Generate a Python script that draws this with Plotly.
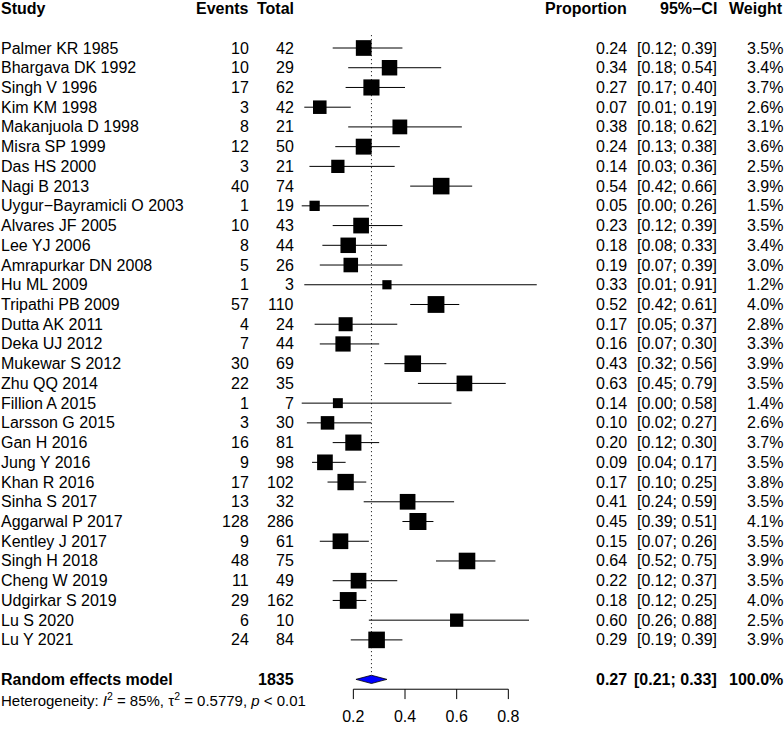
import math
import plotly.graph_objects as go

# ---------------- data ----------------
studies = ["Palmer KR 1985", "Bhargava DK 1992", "Singh V 1996", "Kim KM 1998",
           "Makanjuola D 1998", "Misra SP 1999", "Das HS 2000", "Nagi B 2013",
           "Uygur\u2212Bayramicli O 2003", "Alvares JF 2005", "Lee YJ 2006",
           "Amrapurkar DN 2008", "Hu ML 2009", "Tripathi PB 2009", "Dutta AK 2011",
           "Deka UJ 2012", "Mukewar S 2012", "Zhu QQ 2014", "Fillion A 2015",
           "Larsson G 2015", "Gan H 2016", "Jung Y 2016", "Khan R 2016",
           "Sinha S 2017", "Aggarwal P 2017", "Kentley J 2017", "Singh H 2018",
           "Cheng W 2019", "Udgirkar S 2019", "Lu S 2020", "Lu Y 2021"]
events = [10, 10, 17, 3, 8, 12, 3, 40, 1, 10, 8, 5, 1, 57, 4, 7, 30, 22, 1, 3,
          16, 9, 17, 13, 128, 9, 48, 11, 29, 6, 24]
totals = [42, 29, 62, 42, 21, 50, 21, 74, 19, 43, 44, 26, 3, 110, 24, 44, 69, 35,
          7, 30, 81, 98, 102, 32, 286, 61, 75, 49, 162, 10, 84]
proportion = [0.24, 0.34, 0.27, 0.07, 0.38, 0.24, 0.14, 0.54, 0.05, 0.23, 0.18,
              0.19, 0.33, 0.52, 0.17, 0.16, 0.43, 0.63, 0.14, 0.10, 0.20, 0.09,
              0.17, 0.41, 0.45, 0.15, 0.64, 0.22, 0.18, 0.60, 0.29]
ci_lower = [0.12, 0.18, 0.17, 0.01, 0.18, 0.13, 0.03, 0.42, 0.00, 0.12, 0.08,
            0.07, 0.01, 0.42, 0.05, 0.07, 0.32, 0.45, 0.00, 0.02, 0.12, 0.04,
            0.10, 0.24, 0.39, 0.07, 0.52, 0.12, 0.12, 0.26, 0.19]
ci_upper = [0.39, 0.54, 0.40, 0.19, 0.62, 0.38, 0.36, 0.66, 0.26, 0.39, 0.33,
            0.39, 0.91, 0.61, 0.37, 0.30, 0.56, 0.79, 0.58, 0.27, 0.30, 0.17,
            0.25, 0.59, 0.51, 0.26, 0.75, 0.37, 0.25, 0.88, 0.39]
weights = [3.5, 3.4, 3.7, 2.6, 3.1, 3.6, 2.5, 3.9, 1.5, 3.5, 3.4, 3.0, 1.2, 4.0,
           2.8, 3.3, 3.9, 3.5, 1.4, 2.6, 3.7, 3.5, 3.8, 3.5, 4.1, 3.5, 3.9, 3.5,
           4.0, 2.5, 3.9]

pooled_label = "Random effects model"
pooled_total = 1835
pooled_est = 0.27
pooled_lower = 0.21
pooled_upper = 0.33
pooled_weight = 100.0
heterogeneity = ("Heterogeneity: <i>I</i><sup>2</sup> = 85%, \u03c4<sup>2</sup> = 0.5779, "
                 "<i>p</i> < 0.01")

tick_values = [0.2, 0.4, 0.6, 0.8]
tick_labels = ["0.2", "0.4", "0.6", "0.8"]

headers = ["Study", "Events", "Total", "Proportion", "95%\u2212CI", "Weight"]

# ---------------- layout geometry ----------------
W, H = 784, 730
FONT = "Liberation Sans, Arial, Helvetica, sans-serif"
FS = 16
row0_px = 48.0
row_h = 19.73
n = len(studies)
rows = list(range(n))
header_row = -2
pooled_row = n + 1
het_row = n + 2
axis_row = n + 1.5
y_top = -row0_px / row_h
y_bot = (H - row0_px) / row_h

# x axis: 0 -> 301.7px, 1 -> 560px
x0_px, x_scale = 301.7, 258.3
xr = [-0.05, 1.05]
dom = [(x0_px + xr[0] * x_scale) / W, (x0_px + xr[1] * x_scale) / W]

fig = go.Figure()

# reference line at pooled estimate
fig.add_trace(go.Scatter(x=[pooled_est, pooled_est], y=[-0.65, pooled_row - 0.22],
                         mode="lines", line=dict(color="black", width=1, dash="1px,3px"),
                         hoverinfo="skip", showlegend=False))

# CI lines
cx, cy = [], []
for i in rows:
    cx += [ci_lower[i], ci_upper[i], None]
    cy += [i, i, None]
fig.add_trace(go.Scatter(x=cx, y=cy, mode="lines",
                         line=dict(color="black", width=1),
                         hoverinfo="skip", showlegend=False))

# squares
max_w = max(weights)
sizes = [17 * math.sqrt(w / max_w) for w in weights]
fig.add_trace(go.Scatter(x=proportion, y=rows, mode="markers",
                         marker=dict(symbol="square", size=sizes, color="black",
                                     opacity=1, line=dict(width=0)),
                         cliponaxis=False, hoverinfo="skip", showlegend=False))

# diamond
dh = 0.21
fig.add_trace(go.Scatter(x=[pooled_lower, pooled_est, pooled_upper, pooled_est, pooled_lower],
                         y=[pooled_row, pooled_row - dh, pooled_row, pooled_row + dh, pooled_row],
                         mode="lines", fill="toself", fillcolor="#0000ff",
                         line=dict(color="black", width=0.8),
                         hoverinfo="skip", showlegend=False))

# x axis (drawn from tick values)
ax_x = [tick_values[0], tick_values[-1], None]
ax_y = [axis_row, axis_row, None]
for t in tick_values:
    ax_x += [t, t, None]
    ax_y += [axis_row, axis_row + 0.5, None]
fig.add_trace(go.Scatter(x=ax_x, y=ax_y, mode="lines",
                         line=dict(color="black", width=1),
                         hoverinfo="skip", showlegend=False))
fig.add_trace(go.Scatter(x=tick_values, y=[axis_row + 1.47] * len(tick_values),
                         mode="text", text=tick_labels, textposition="middle center",
                         textfont=dict(family=FONT, size=FS, color="black"),
                         cliponaxis=False, hoverinfo="skip", showlegend=False))

# ---------------- text columns ----------------
ann = []


def add_text(px, row, text, anchor="right", bold=False, size=FS):
    if bold:
        text = "<b>" + text + "</b>"
    ann.append(dict(x=px / W, xref="paper", y=row, yref="y", text=text,
                    xanchor=anchor, yanchor="middle", showarrow=False,
                    borderpad=0, borderwidth=0,
                    font=dict(family=FONT, size=size, color="black")))


col_right = {"Events": 248.5, "Total": 293.5, "Proportion": 626.5,
             "95%\u2212CI": 717.0, "Weight": 782.5}

add_text(1, header_row, headers[0], anchor="left", bold=True)
for h in headers[1:]:
    add_text(col_right[h], header_row, h, bold=True)

for i in rows:
    add_text(1, i, studies[i], anchor="left")
    add_text(col_right["Events"], i, str(events[i]))
    add_text(col_right["Total"], i, str(totals[i]))
    add_text(col_right["Proportion"], i, f"{proportion[i]:.2f}")
    add_text(col_right["95%\u2212CI"], i, f"[{ci_lower[i]:.2f}; {ci_upper[i]:.2f}]")
    add_text(col_right["Weight"], i, f"{weights[i]:.1f}%")

add_text(1, pooled_row, pooled_label, anchor="left", bold=True)
add_text(col_right["Total"], pooled_row, str(pooled_total), bold=True)
add_text(col_right["Proportion"], pooled_row, f"{pooled_est:.2f}", bold=True)
add_text(col_right["95%\u2212CI"], pooled_row, f"[{pooled_lower:.2f}; {pooled_upper:.2f}]", bold=True)
add_text(col_right["Weight"], pooled_row, f"{pooled_weight:.1f}%", bold=True)
add_text(1, het_row, heterogeneity, anchor="left", size=15)

fig.update_layout(
    width=W, height=H,
    margin=dict(l=0, r=0, t=0, b=0, pad=0),
    paper_bgcolor="white", plot_bgcolor="white",
    font=dict(family=FONT, size=FS, color="black"),
    xaxis=dict(domain=dom, range=xr, visible=False, fixedrange=True),
    yaxis=dict(domain=[0, 1], range=[y_bot, y_top], visible=False, fixedrange=True),
    annotations=ann,
    showlegend=False,
    hovermode=False,
)

fig.write_html("out.html",
               config={"displayModeBar": False, "staticPlot": True},
               post_script="document.body.style.margin='0';document.body.style.overflow='hidden';")
